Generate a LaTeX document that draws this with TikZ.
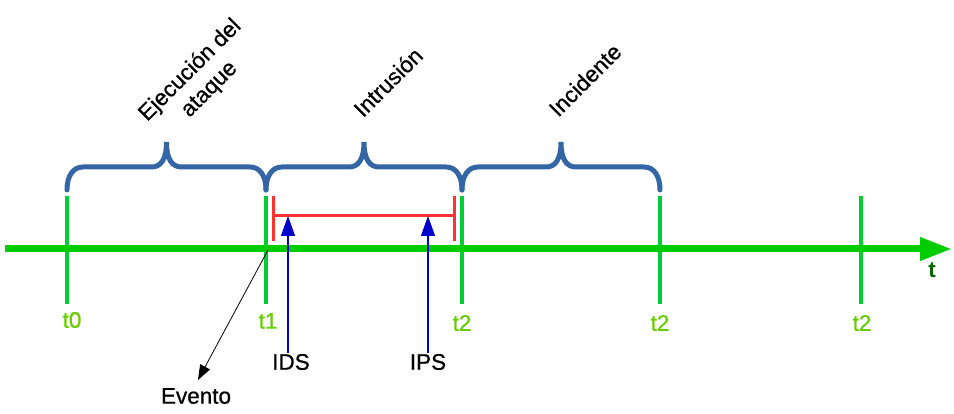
\documentclass[tikz,border=0pt]{standalone}
\usepackage{fontspec}
\setmainfont{Liberation Sans}
\newfontfamily\heavyfont[FakeBold=0.7]{Liberation Sans}
\usetikzlibrary{arrows.meta}
\definecolor{axisgreen}{RGB}{0,204,0}
\definecolor{tickgreen}{RGB}{0,204,51}
\definecolor{labgreen}{RGB}{102,204,0}
\definecolor{tgreen}{RGB}{0,102,0}
\definecolor{braceblue}{RGB}{52,101,164}
\definecolor{bracketred}{RGB}{255,51,51}
\definecolor{arrowblue}{RGB}{0,0,204}
\newcommand{\mybrace}[2]{%
  \pgfmathsetmacro{\bm}{(#1+#2)/2}%
  \draw[bracestyle] (#1,190) .. controls (#1,176) and (#1+6,167) .. (#1+16,167)
    -- (\bm-15,167) .. controls (\bm-6,167) and (\bm,160) .. (\bm,142)
    .. controls (\bm,160) and (\bm+6,167) .. (\bm+15,167)
    -- (#2-16,167) .. controls (#2-6,167) and (#2,176) .. (#2,190);}
\begin{document}
\begin{tikzpicture}[x=1pt,y=-1pt,
  txt/.style={font=\heavyfont\fontsize{22.5}{27}\selectfont, inner sep=0pt},
  ticklab/.style={txt, text=labgreen},
  tickline/.style={tickgreen, line width=4pt},
  bracestyle/.style={braceblue, line width=5pt, line cap=round},
  rotlab/.style={txt, rotate=45, align=center},
  bluearrow/.style={arrowblue, line width=1.4pt, -{Triangle[length=20pt,width=14pt]}},
  redline/.style={bracketred, line width=3pt}]
\useasboundingbox (0,0) rectangle (954,414);
% ticks
\foreach \n/\x in {a/67,b/266,c/462,d/660,e/861}{
  \coordinate (top\n) at (\x,196);
  \coordinate (bot\n) at (\x,304);
  \draw[tickline] (top\n) -- (bot\n);
}
% axis
\coordinate (axs) at (5,249);
\coordinate (axe) at (952,249);
\draw[axisgreen, line width=7pt, -{Triangle[length=32pt,width=22pt]}] (axs) -- (axe);
\node[txt, text=tgreen, font=\fontsize{22.5}{27}\selectfont\bfseries] (tl) at (932,270) {t};
% tick labels
\node[ticklab] (l0) at (72,320) {t0};
\node[ticklab] (l1) at (268,321) {t1};
\node[ticklab] (l2) at (462,323) {t2};
\node[ticklab] (l3) at (660,323) {t2};
\node[ticklab] (l4) at (862,323) {t2};
% braces
\mybrace{67}{266}
\mybrace{266}{462}
\mybrace{462}{660}
% rotated labels
\node[rotlab] (ej) at (200,80) {Ejecución del\\ataque};
\node[rotlab] (in) at (388,82) {Intrusión};
\node[rotlab] (ic) at (585,80) {Incidente};
% red bracket
\coordinate (ra) at (273,216);
\coordinate (rb) at (454,216);
\draw[redline] (ra) -- (rb);
\draw[redline] (273,196) -- (273,241);
\draw[redline] (454,196) -- (454,241);
% IDS / IPS
\node[txt] (ids) at (291,362) {IDS};
\node[txt] (ips) at (428,362) {IPS};
\coordinate (idst) at (288,216);
\coordinate (ipst) at (428,216);
\draw[bluearrow] (288,353) -- (idst);
\draw[bluearrow] (428,353) -- (ipst);
% Evento
\node[txt] (ev) at (196,396) {Evento};
\coordinate (evs) at (268,250);
\coordinate (evt) at (198,380);
\draw[black, line width=0.8pt, -{Triangle[length=15pt,width=11pt]}] (evs) -- (evt);
\end{tikzpicture}
\end{document}
